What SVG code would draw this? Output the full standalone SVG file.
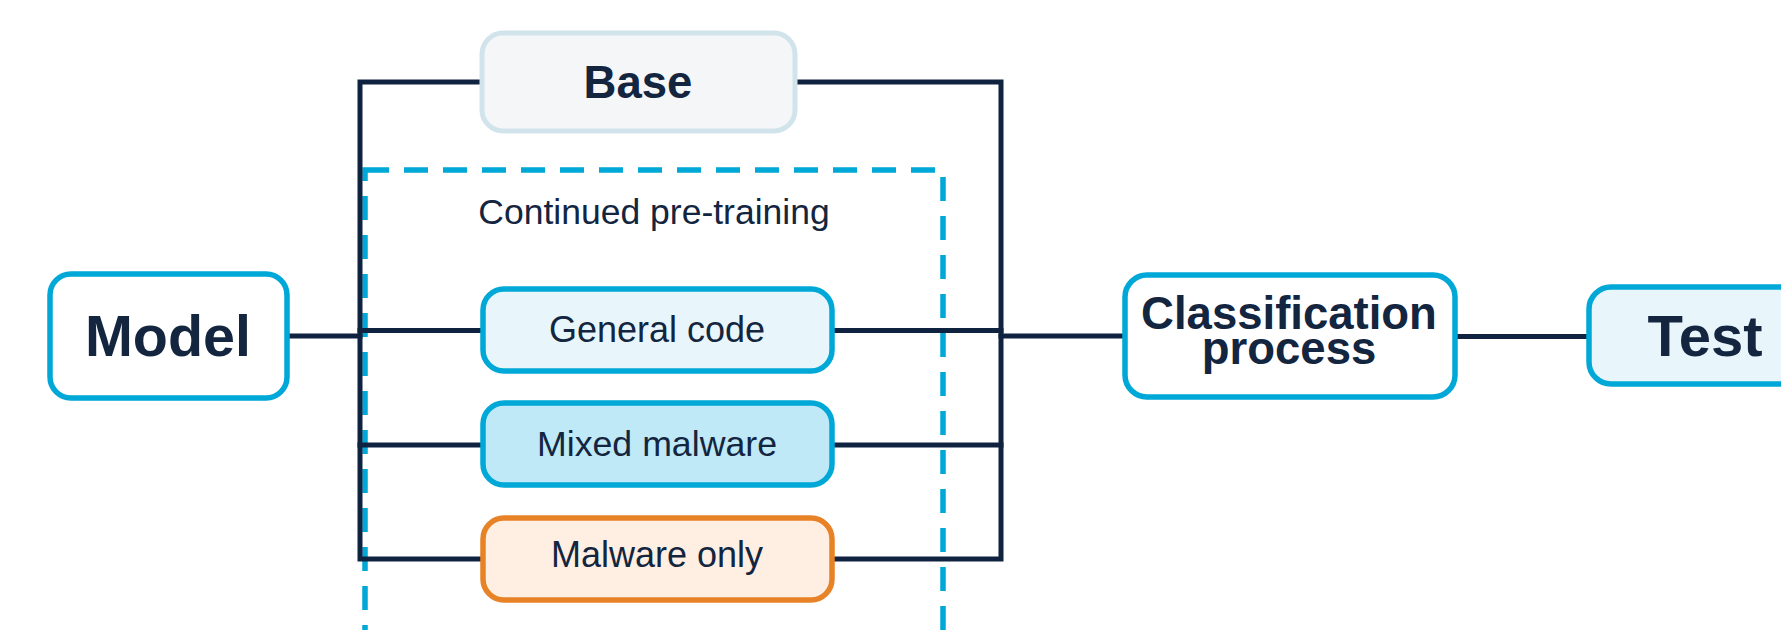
<svg xmlns="http://www.w3.org/2000/svg" width="1781" height="630" viewBox="0 0 1781 630">
  <style>
    .t { font-family: "Liberation Sans", Arial, sans-serif; fill: #13253F; text-anchor: middle; }
    .b { font-weight: bold; }
    .ln { stroke: #0F2340; stroke-width: 5; fill: none; stroke-linecap: square; }
    .cy { stroke: #00A8D8; stroke-width: 5.5; }
  </style>
  <rect x="0" y="0" width="1781" height="630" fill="#FFFFFF"/>

  <g id="group-continued-pretraining">
    <rect x="365" y="170" width="578" height="500" fill="none" stroke="#00A8D8" stroke-width="5.5" stroke-dasharray="24 15"/>
    <text class="t" x="654" y="224" font-size="35.5">Continued pre-training</text>
  </g>

  <g id="connectors">
    <line class="ln" x1="288" y1="336" x2="360" y2="336"/>
    <polyline class="ln" points="480,82 360,82 360,559 480,559" stroke-linecap="butt"/>
    <line class="ln" x1="360" y1="330.5" x2="480" y2="330.5"/>
    <line class="ln" x1="360" y1="445" x2="480" y2="445"/>
    <polyline class="ln" points="796,82 1001,82 1001,559 835,559" stroke-linecap="butt"/>
    <line class="ln" x1="835" y1="330.5" x2="1001" y2="330.5"/>
    <line class="ln" x1="835" y1="445" x2="1001" y2="445"/>
    <line class="ln" x1="1001" y1="336" x2="1122" y2="336" stroke-width="6.5"/>
    <line class="ln" x1="1457" y1="336.5" x2="1586" y2="336.5" stroke-width="8"/>
  </g>

  <g id="node-model">
    <rect class="cy" x="50" y="274" width="237" height="124" rx="21" fill="#FFFFFF"/>
    <text class="t b" x="168" y="356" font-size="57.5">Model</text>
  </g>

  <g id="node-base">
    <rect x="482" y="33" width="313" height="98" rx="21" fill="#F4F6F8" stroke="#D1E4EB" stroke-width="5"/>
    <text class="t b" x="638" y="98" font-size="45.5">Base</text>
  </g>

  <g id="node-general-code">
    <rect class="cy" x="483" y="289" width="349" height="82" rx="21" fill="#E8F6FB"/>
    <text class="t" x="657" y="342" font-size="36">General code</text>
  </g>

  <g id="node-mixed-malware">
    <rect class="cy" x="483" y="403" width="349" height="82" rx="21" fill="#BFE9F7"/>
    <text class="t" x="657" y="456" font-size="35.7">Mixed malware</text>
  </g>

  <g id="node-malware-only">
    <rect x="483" y="518" width="349" height="82" rx="21" fill="#FEEFE2" stroke="#E88226" stroke-width="5.5"/>
    <text class="t" x="657" y="567" font-size="36">Malware only</text>
  </g>

  <g id="node-classification">
    <rect class="cy" x="1125" y="275" width="330" height="122" rx="22" fill="#FFFFFF"/>
    <text class="t b" x="1289" y="329" font-size="45.5">Classification</text>
    <text class="t b" x="1289" y="364" font-size="45.5">process</text>
  </g>

  <g id="node-test">
    <rect class="cy" x="1589" y="287" width="260" height="97" rx="22" fill="#E8F6FB" stroke-width="6"/>
    <text class="t b" x="1705" y="356" font-size="58">Test</text>
  </g>
</svg>
